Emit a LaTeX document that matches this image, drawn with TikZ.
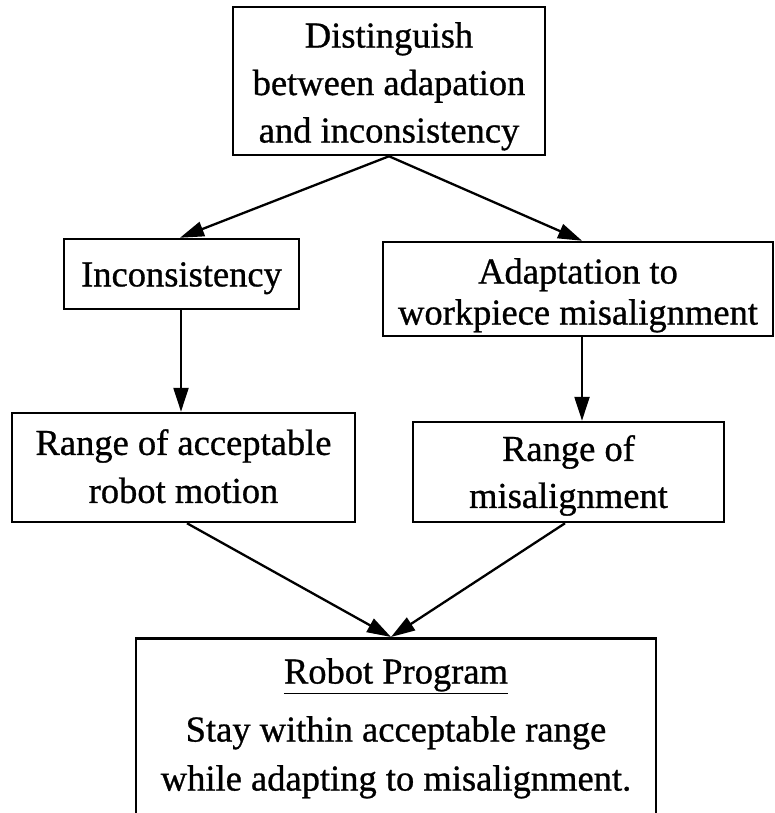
\documentclass[tikz,border=0pt]{standalone}
\usepackage{fontspec}
\setmainfont{Liberation Serif}[FakeBold=0.8]
\usetikzlibrary{arrows.meta}
\begin{document}
\begin{tikzpicture}[x=1pt,y=-1pt,
  box/.style={draw, line width=2.5pt, inner sep=0pt},
  txt/.style={align=center, inner sep=0pt, anchor=north},
  arr/.style={line width=2.3pt, -{Triangle[length=24pt,width=15pt]}}]
\useasboundingbox (0,0) rectangle (774,813);
\clip (0,0) rectangle (774,813);
% boxes
\node[box, minimum width=312pt, minimum height=148pt] (top) at (389,81) {};
\node[box, minimum width=235pt, minimum height=70pt] (inc) at (181.5,274) {};
\node[box, minimum width=390pt, minimum height=94pt] (adapt) at (578,289) {};
\node[box, minimum width=343pt, minimum height=109pt] (rangeA) at (183.5,467.5) {};
\node[box, minimum width=311pt, minimum height=100pt] (rangeM) at (568.5,472) {};
\node[box, minimum width=520pt, minimum height=220pt, anchor=north] (prog) at (396,637) {};
% texts
\node[txt, font=\fontsize{36.5}{47.5}\selectfont] (topT) at (389,22)
  {Distinguish\\between adapation\\and inconsistency};
\node[txt, font=\fontsize{36.5}{47}\selectfont] (incT) at (181.5,262)
  {Inconsistency};
\node[txt, font=\fontsize{36.5}{41}\selectfont] (adaptT) at (578,258)
  {Adaptation to\\workpiece misalignment};
\node[txt, font=\fontsize{36.5}{48}\selectfont] (rangeAT) at (183.5,429)
  {Range of acceptable\\robot motion};
\node[txt, font=\fontsize{36.5}{47}\selectfont] (rangeMT) at (568.5,435)
  {Range of\\misalignment};
\node[txt, font=\fontsize{36.5}{49}\selectfont] (progT) at (396,658)
  {\underline{Robot Program}\\[9pt]Stay within acceptable range\\while adapting to misalignment.};
% connectors
\draw[arr] (top.south) -- ([xshift=-1.5pt]inc.north);
\draw[arr] (top.south) -- ([xshift=4pt]adapt.north);
\draw[arr] ([xshift=-0.5pt]inc.south) -- ([xshift=-0.5pt]inc.south |- rangeA.north);
\draw[arr] ([xshift=4pt]adapt.south) -- ([xshift=4pt]adapt.south |- rangeM.north);
\draw[arr] ([xshift=3.5pt]rangeA.south) -- ([xshift=-5pt]prog.north);
\draw[arr] ([xshift=-3.5pt]rangeM.south) -- ([xshift=-5pt]prog.north);
\end{tikzpicture}
\end{document}
